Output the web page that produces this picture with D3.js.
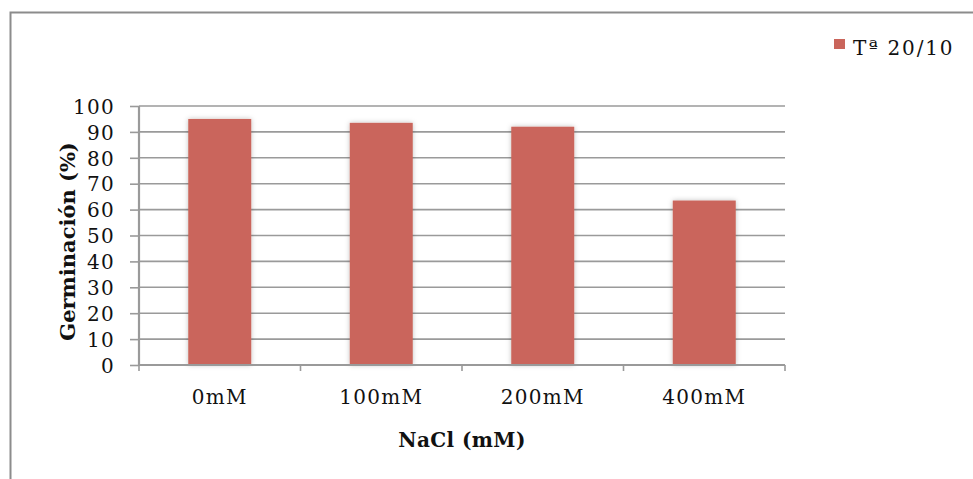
<!DOCTYPE html>
<html>
<head>
<meta charset="utf-8">
<script src="https://cdn.jsdelivr.net/npm/d3@7"></script>
<style>
  html, body { margin: 0; padding: 0; background: #fff; }
  svg { display: block; }
  text { font-family: "DejaVu Serif", "Liberation Serif", serif; fill: #111; }
</style>
</head>
<body>
<svg id="chart" width="973" height="479"></svg>
<script>
// Germination percentage by NaCl concentration
const categories = ["0mM", "100mM", "200mM", "400mM"];
const germination = [95, 93.5, 92, 63.5];
const yTicks = [0, 10, 20, 30, 40, 50, 60, 70, 80, 90, 100];
const seriesName = "Tª 20/10";

const svg = d3.select("#chart");
const W = 973, H = 479;
const plot = { left: 139, right: 785, top: 106, bottom: 365 };
const barColor = "#CA655B";
const gridColor = "#9a9a9a";

// soft glow around the bars
const defs = svg.append("defs");
const f = defs.append("filter").attr("id", "glow")
  .attr("x", "-30%").attr("y", "-10%").attr("width", "160%").attr("height", "120%");
f.append("feDropShadow").attr("dx", 0).attr("dy", 0)
  .attr("stdDeviation", 2.5).attr("flood-color", "#000").attr("flood-opacity", 0.25);

// outer frame
svg.append("path")
  .attr("d", `M10.5,${H + 5} L10.5,12.5 L${W + 5},12.5`)
  .attr("fill", "none").attr("stroke", "#8c8c8c").attr("stroke-width", 2);

const x = d3.scaleBand().domain(categories).range([plot.left, plot.right]).padding(0);
const y = d3.scaleLinear().domain([0, 100]).range([plot.bottom, plot.top]);

// horizontal gridlines
svg.append("g").selectAll("line").data(yTicks.filter(d => d > 0)).join("line")
  .attr("x1", plot.left).attr("x2", plot.right)
  .attr("y1", d => y(d)).attr("y2", d => y(d))
  .attr("stroke", gridColor).attr("stroke-width", 1.6);

// bars
const barW = x.bandwidth() * 0.39;
svg.append("g").selectAll("rect").data(categories).join("rect")
  .attr("x", (d) => x(d) + (x.bandwidth() - barW) / 2)
  .attr("width", barW)
  .attr("y", (d, i) => y(germination[i]))
  .attr("height", (d, i) => y(0) - y(germination[i]))
  .attr("fill", barColor)
  .attr("filter", "url(#glow)");

// y axis
const yAxis = d3.axisLeft(y).tickValues(yTicks).tickSize(9).tickPadding(15).tickFormat(d3.format("d"));
const gy = svg.append("g").attr("transform", `translate(${plot.left},0)`).call(yAxis);
gy.select(".domain").attr("stroke", gridColor).attr("stroke-width", 2.2)
  .attr("d", `M0,${plot.top}V${plot.bottom}`);
gy.selectAll(".tick line").attr("stroke", gridColor).attr("stroke-width", 1.6);
gy.selectAll(".tick text").attr("font-size", 20).attr("letter-spacing", 1.3)
  .attr("font-family", "DejaVu Serif").attr("fill", "#111").attr("dy", "0.36em");

// x axis with ticks at category boundaries
svg.append("line")
  .attr("x1", plot.left - 1).attr("x2", plot.right)
  .attr("y1", plot.bottom).attr("y2", plot.bottom)
  .attr("stroke", gridColor).attr("stroke-width", 2.2);
const bounds = categories.map(c => x(c)).concat([plot.right]);
svg.append("g").selectAll("line").data(bounds).join("line")
  .attr("x1", d => d).attr("x2", d => d)
  .attr("y1", plot.bottom).attr("y2", plot.bottom + 6)
  .attr("stroke", gridColor).attr("stroke-width", 1.6);
svg.append("g").selectAll("text").data(categories).join("text")
  .attr("x", d => x(d) + x.bandwidth() / 2)
  .attr("y", 404)
  .attr("text-anchor", "middle")
  .attr("font-size", 20).attr("letter-spacing", 1.3)
  .text(d => d);

// axis titles
svg.append("text")
  .attr("x", (plot.left + plot.right) / 2).attr("y", 447)
  .attr("text-anchor", "middle").attr("font-weight", "bold").attr("font-size", 20)
  .attr("letter-spacing", 0.4)
  .text("NaCl (mM)");
svg.append("text")
  .attr("transform", `translate(75,${(plot.top + plot.bottom) / 2 + 6}) rotate(-90)`)
  .attr("text-anchor", "middle").attr("font-weight", "bold").attr("font-size", 21)
  .text("Germinación (%)");

// legend
const lg = svg.append("g").attr("transform", "translate(834,39)");
lg.append("rect").attr("width", 11).attr("height", 10).attr("fill", barColor);
lg.append("text").attr("x", 19).attr("y", 16).attr("font-size", 20).attr("letter-spacing", 1.8)
  .text(seriesName);
</script>
</body>
</html>
